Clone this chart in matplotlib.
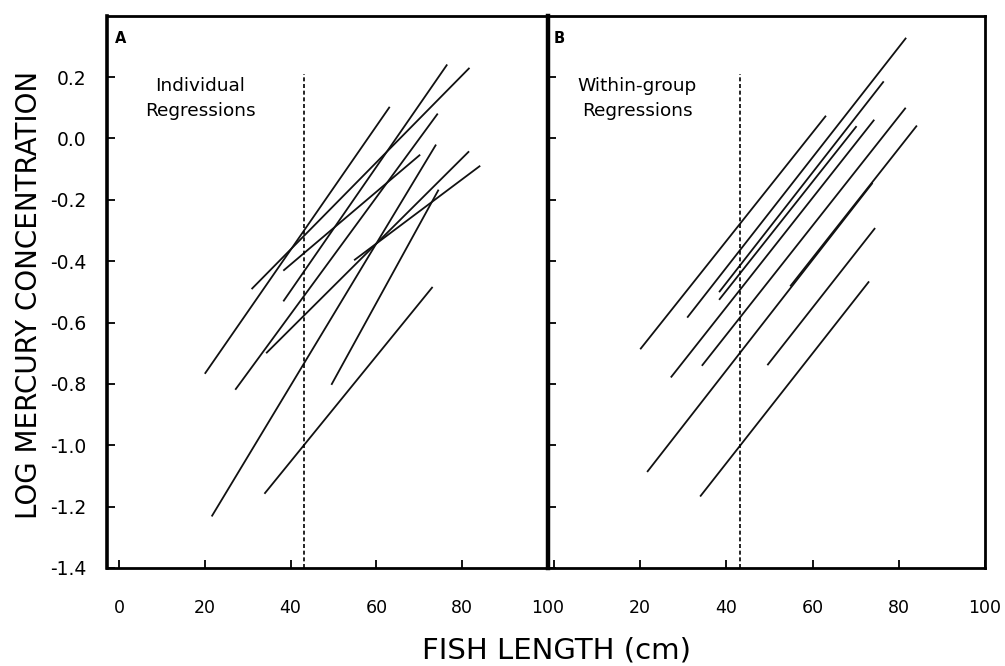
import matplotlib
matplotlib.use('Agg')
import matplotlib.pyplot as plt

plt.rcParams['font.family'] = ['DejaVu Sans']
plt.rcParams['axes.unicode_minus'] = False

# fish length range covered by each group's regression (cm)
x_start = [20.0, 21.6, 27.1, 30.9, 33.9, 34.3, 38.3, 38.3, 49.5, 54.8]
x_end = [63.1, 73.9, 74.3, 81.7, 73.1, 81.6, 70.2, 76.5, 74.5, 84.2]

# panel A: individual regressions (log Hg at each end)
ind_y_start = [-0.767, -1.232, -0.819, -0.491, -1.158, -0.700, -0.431, -0.531, -0.803, -0.397]
ind_y_end = [0.103, -0.020, 0.081, 0.230, -0.484, -0.042, -0.053, 0.241, -0.167, -0.089]

# panel B: within-group regressions (common slope)
grp_y_start = [-0.687, -1.087, -0.779, -0.584, -1.167, -0.741, -0.526, -0.501, -0.739, -0.482]
grp_y_end = [0.074, -0.145, 0.061, 0.328, -0.466, 0.100, 0.040, 0.186, -0.292, 0.042]

# reference length (dashed line)
ref_length = 43.2
ref_top = 0.21

yticks = [0.2, 0.0, -0.2, -0.4, -0.6, -0.8, -1.0, -1.2, -1.4]
xticks = [0, 20, 40, 60, 80, 100]

W, H = 1005, 666
fig = plt.figure(figsize=(W / 100, H / 100), dpi=100)

ax_bot, ax_top = 568, 15.7
axA = fig.add_axes([107 / W, 1 - ax_bot / H, (548 - 107) / W, (ax_bot - ax_top) / H])
axB = fig.add_axes([548 / W, 1 - ax_bot / H, (985 - 548) / W, (ax_bot - ax_top) / H])

panels = [
    (axA, ind_y_start, ind_y_end, (-2.8, 100), 'A', 'Individual\nRegressions', 0.211),
    (axB, grp_y_start, grp_y_end, (-1.4, 100), 'B', 'Within-group\nRegressions', 0.204),
]

for ax, ys, ye, xlim, tag, label, lx in panels:
    for x0, x1, y0, y1 in zip(x_start, x_end, ys, ye):
        ax.plot([x0, x1], [y0, y1], color='#111111', lw=1.3, solid_capstyle='butt')
    ax.plot([ref_length, ref_length], [-1.4, ref_top], color='black', lw=1.2,
            linestyle=(0, (2.4, 1.6)))

    ax.set_xlim(*xlim)
    ax.set_ylim(-1.4, 0.40)
    ax.set_xticks(xticks)
    ax.set_yticks(yticks)
    ax.tick_params(direction='in', length=6, width=1.3)
    ax.tick_params(axis='x', labelsize=12.5, pad=22)
    ax.tick_params(axis='y', labelsize=13.5, pad=15)

    ax.text(0.018 if tag == 'A' else 0.012, 0.973, tag, transform=ax.transAxes,
            fontsize=10.5, fontweight='bold', va='top', ha='left')
    ax.text(lx, 0.850, label, transform=ax.transAxes, fontsize=13.3,
            ha='center', va='center', multialignment='center', linespacing=1.55)

    for s in ax.spines.values():
        s.set_linewidth(2)

axA.set_yticklabels([f'{v:.1f}' for v in yticks])
axA.set_xticklabels([str(v) for v in xticks])
axA.spines['right'].set_visible(False)
axA.spines['left'].set_linewidth(2.6)

axB.set_yticklabels([])
axB.set_xticklabels([''] + [str(v) for v in xticks[1:]])
axB.spines['left'].set_linewidth(3.2)

fig.text(29.5 / W, 1 - 295 / H, 'LOG MERCURY CONCENTRATION', rotation=90,
         ha='center', va='center', fontsize=20)
fig.text(557 / W, 1 - 651 / H, 'FISH LENGTH (cm)', ha='center', va='center',
         fontsize=21)

fig.savefig('out.png', dpi=100, facecolor='white')
